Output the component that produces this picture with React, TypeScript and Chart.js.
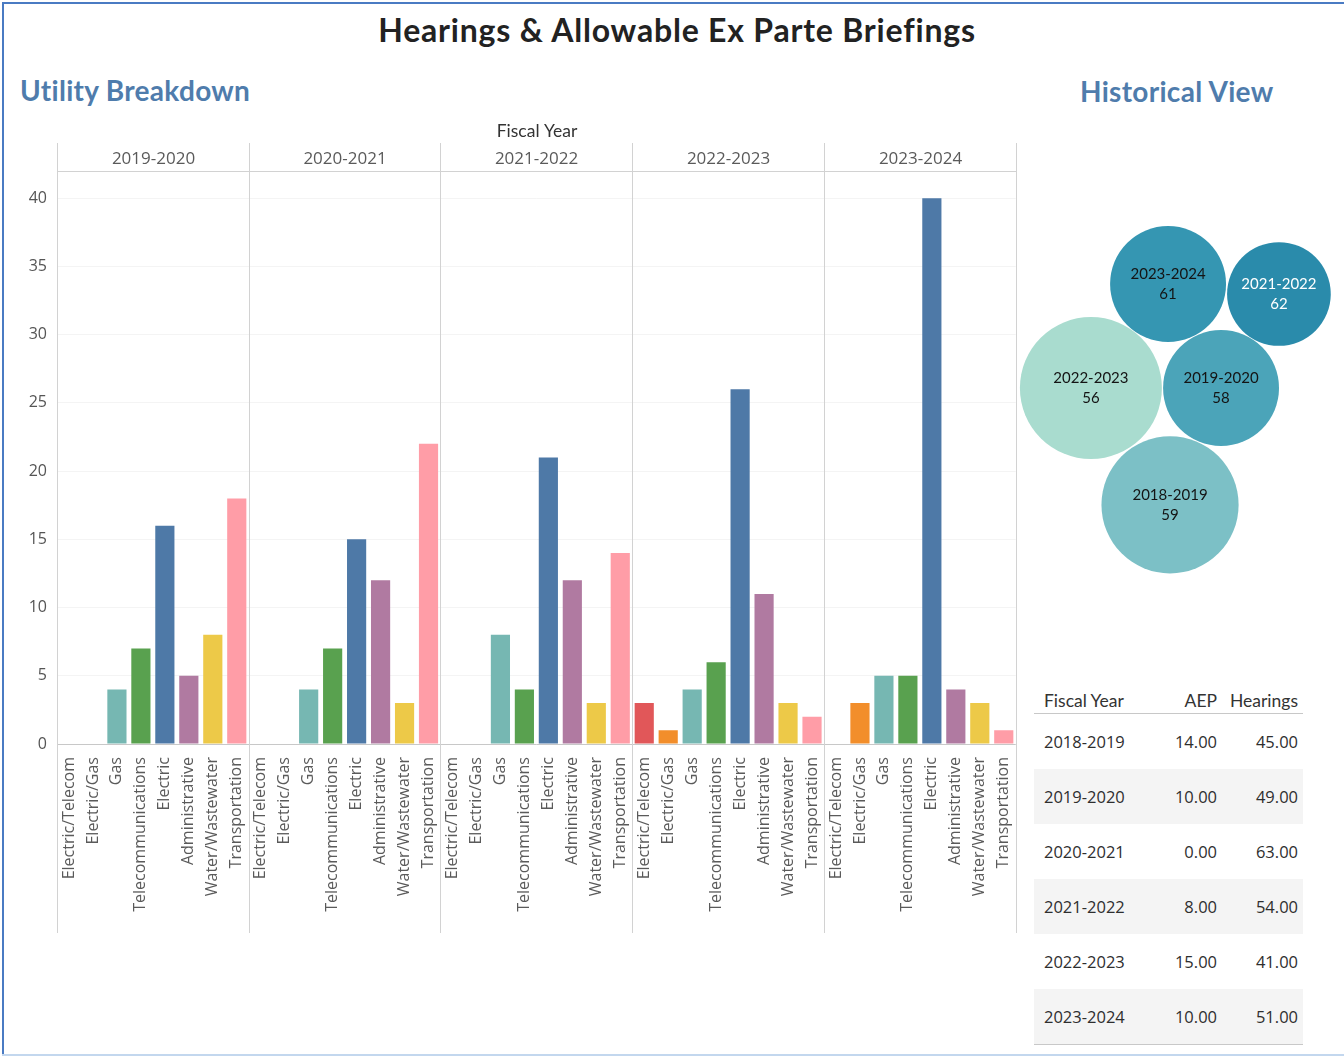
import React, { useEffect, useRef } from "react";
import { Chart, registerables } from "chart.js";

Chart.register(...registerables);

// ---------- Data ----------
const fiscalYears = ["2019-2020", "2020-2021", "2021-2022", "2022-2023", "2023-2024"];
const utilityCategories = [
  "Electric/Telecom",
  "Electric/Gas",
  "Gas",
  "Telecommunications",
  "Electric",
  "Administrative",
  "Water/Wastewater",
  "Transportation",
];
const categoryColors = ["#e15759", "#f28e2b", "#76b7b2", "#59a14f", "#4e79a7", "#b07aa1", "#edc948", "#ff9da7"];

const counts2019_2020 = [0, 0, 4, 7, 16, 5, 8, 18];
const counts2020_2021 = [0, 0, 4, 7, 15, 12, 3, 22];
const counts2021_2022 = [0, 0, 8, 4, 21, 12, 3, 14];
const counts2022_2023 = [3, 1, 4, 6, 26, 11, 3, 2];
const counts2023_2024 = [0, 3, 5, 5, 40, 4, 3, 1];
const yearCounts = [counts2019_2020, counts2020_2021, counts2021_2022, counts2022_2023, counts2023_2024];
const yTicks = [0, 5, 10, 15, 20, 25, 30, 35, 40];

// Historical view bubbles
const bubbleYears = ["2023-2024", "2021-2022", "2022-2023", "2019-2020", "2018-2019"];
const bubbleTotals = [61, 62, 56, 58, 59];
const bubbleAEP = [10, 8, 15, 10, 14];
const bubbleX = [4.62, 8.01, 2.26, 6.24, 4.68];
const bubbleY = [7.9, 7.65, 5.3, 5.3, 2.38];
const bubbleColors = ["#3596b2", "#2a8bab", "#a9dccf", "#4ba4b9", "#7cc0c6"];
const bubbleTextColors = ["#141414", "#ffffff", "#141414", "#141414", "#141414"];

// Table
const tableYears = ["2018-2019", "2019-2020", "2020-2021", "2021-2022", "2022-2023", "2023-2024"];
const tableAEP = [14, 10, 0, 8, 15, 10];
const tableHearings = [45, 49, 63, 54, 41, 51];

const AXIS_FONT = "'Open Sans', sans-serif";
const HEAD_FONT = "Lato, 'Open Sans', sans-serif";

function BarPanel() {
  const ref = useRef<HTMLCanvasElement | null>(null);
  useEffect(() => {
    if (!ref.current) return;
    const labels: string[] = [];
    const values: number[] = [];
    const colors: string[] = [];
    yearCounts.forEach((arr) => {
      arr.forEach((v, i) => {
        labels.push(utilityCategories[i]);
        values.push(v);
        colors.push(categoryColors[i]);
      });
    });
    const nCat = utilityCategories.length;

    const panelPlugin = {
      id: "panels",
      afterDraw(chart: any) {
        const { ctx, chartArea, scales } = chart;
        const xs = scales.x;
        const slot = xs.getPixelForValue(1) - xs.getPixelForValue(0);
        const bounds: number[] = [];
        for (let p = 0; p <= fiscalYears.length; p++) {
          bounds.push(Math.round(xs.getPixelForValue(p * nCat) - slot / 2) + 0.5);
        }
        ctx.save();
        ctx.strokeStyle = "#d2d2d2";
        ctx.lineWidth = 1;
        bounds.forEach((bx) => {
          ctx.beginPath();
          ctx.moveTo(bx, chartArea.top - 28);
          ctx.lineTo(bx, chart.height);
          ctx.stroke();
        });
        ctx.beginPath();
        ctx.moveTo(bounds[0], Math.round(chartArea.top) + 0.5);
        ctx.lineTo(bounds[bounds.length - 1], Math.round(chartArea.top) + 0.5);
        ctx.stroke();
        ctx.fillStyle = "#5a5a5a";
        ctx.font = `17px ${AXIS_FONT}`;
        ctx.textAlign = "center";
        ctx.textBaseline = "middle";
        fiscalYears.forEach((fy, i) => {
          ctx.fillText(fy, (bounds[i] + bounds[i + 1]) / 2, chartArea.top - 12);
        });
        ctx.fillStyle = "#333";
        ctx.font = `17.5px ${HEAD_FONT}`;
        ctx.fillText("Fiscal Year", (bounds[0] + bounds[bounds.length - 1]) / 2, chartArea.top - 40);
        ctx.restore();
      },
    };

    const chart = new Chart(ref.current, {
      type: "bar",
      data: {
        labels,
        datasets: [
          {
            data: values,
            backgroundColor: colors,
            barPercentage: 0.8,
            categoryPercentage: 1.0,
          },
        ],
      },
      options: {
        animation: false,
        responsive: false,
        maintainAspectRatio: false,
        layout: { padding: { top: 61, right: 3, left: 0, bottom: 0 } },
        plugins: { legend: { display: false }, tooltip: { enabled: false } },
        scales: {
          x: {
            grid: { display: false },
            border: { display: false },
            ticks: {
              autoSkip: false,
              maxRotation: 90,
              minRotation: 90,
              padding: 5,
              color: "#5a5a5a",
              font: { family: AXIS_FONT, size: 16 },
            },
            afterFit: (s: any) => {
              s.height = 189;
            },
          },
          y: {
            min: 0,
            max: 42,
            afterFit: (s: any) => {
              s.width = 57;
            },
            afterBuildTicks: (s: any) => {
              s.ticks = yTicks.map((v) => ({ value: v }));
            },
            border: { display: false },
            grid: {
              color: (c: any) => (c.tick && c.tick.value === 0 ? "#c8c8c8" : "#f4f4f4"),
              drawTicks: false,
            },
            ticks: {
              padding: 10,
              color: "#555",
              font: { family: AXIS_FONT, size: 16 },
            },
          },
        },
      },
      plugins: [panelPlugin],
    });
    return () => chart.destroy();
  }, []);
  return <canvas ref={ref} width={1028} height={823} style={{ position: "absolute", left: 0, top: 110 }} />;
}

function BubblePanel() {
  const ref = useRef<HTMLCanvasElement | null>(null);
  useEffect(() => {
    if (!ref.current) return;
    const labelPlugin = {
      id: "bubbleLabels",
      afterDatasetsDraw(chart: any) {
        const { ctx } = chart;
        const meta = chart.getDatasetMeta(0);
        ctx.save();
        ctx.textAlign = "center";
        ctx.textBaseline = "middle";
        ctx.font = `15px ${HEAD_FONT}`;
        meta.data.forEach((el: any, i: number) => {
          ctx.fillStyle = bubbleTextColors[i];
          ctx.fillText(bubbleYears[i], el.x, el.y - 10);
          ctx.fillText(String(bubbleTotals[i]), el.x, el.y + 10);
        });
        ctx.restore();
      },
    };
    const chart = new Chart(ref.current, {
      type: "bubble",
      data: {
        datasets: [
          {
            data: bubbleYears.map((_, i) => ({ x: bubbleX[i], y: bubbleY[i], r: 18.33 * Math.sqrt(bubbleAEP[i]) })),
            backgroundColor: bubbleColors,
            borderWidth: 0,
            hoverBorderWidth: 0,
            clip: false as any,
          },
        ],
      },
      options: {
        animation: false,
        responsive: false,
        maintainAspectRatio: false,
        layout: { padding: 0, autoPadding: false },
        plugins: { legend: { display: false }, tooltip: { enabled: false } },
        scales: {
          x: { display: false, min: 0, max: 10 },
          y: { display: false, min: 0, max: 10 },
        },
      },
      plugins: [labelPlugin],
    });
    return () => chart.destroy();
  }, []);
  return <canvas ref={ref} width={327} height={400} style={{ position: "absolute", left: 1017, top: 200 }} />;
}

function DataTable() {
  const rowH = 55;
  const col1: React.CSSProperties = { width: 140, paddingLeft: 10, boxSizing: "border-box" };
  const col2: React.CSSProperties = { width: 43, textAlign: "right" };
  const col3: React.CSSProperties = { width: 81, textAlign: "right" };
  return (
    <div style={{ position: "absolute", left: 1034, top: 687, width: 269, fontFamily: AXIS_FONT, color: "#333" }}>
      <div
        style={{
          height: 26,
          display: "flex",
          alignItems: "center",
          borderBottom: "1px solid #c8c8c8",
          fontFamily: HEAD_FONT,
          fontSize: 17.5,
          color: "#333",
          whiteSpace: "nowrap",
        }}
      >
        <div style={col1}>Fiscal Year</div>
        <div style={col2}>AEP</div>
        <div style={col3}>Hearings</div>
      </div>
      {tableYears.map((y, i) => (
        <div
          key={y}
          style={{
            height: rowH,
            display: "flex",
            alignItems: "center",
            background: i % 2 === 1 ? "#f4f4f4" : "#fff",
            fontSize: 16.5,
            color: "#2e2e2e",
            whiteSpace: "nowrap",
          }}
        >
          <div style={col1}>{y}</div>
          <div style={col2}>{tableAEP[i].toFixed(2)}</div>
          <div style={col3}>{tableHearings[i].toFixed(2)}</div>
        </div>
      ))}
      <div style={{ borderTop: "1px solid #c8c8c8" }} />
    </div>
  );
}

export default function App() {
  return (
    <div
      style={{
        position: "absolute",
        left: 0,
        top: 0,
        width: 1344,
        height: 1057,
        background: "#fff",
        overflow: "hidden",
      }}
    >
      <div style={{ position: "absolute", left: 2, top: 2, width: 1342, height: 2, background: "#4a7bc3" }} />
      <div style={{ position: "absolute", left: 2, top: 2, width: 2, height: 1054, background: "#4a7bc3" }} />
      <div style={{ position: "absolute", left: 2, top: 1054, width: 1342, height: 2, background: "#c3d7ee" }} />
      <div
        style={{
          position: "absolute",
          left: 0,
          width: 1354,
          top: 10,
          textAlign: "center",
          fontFamily: HEAD_FONT,
          fontWeight: 700,
          fontSize: 32,
          letterSpacing: 0.8,
          color: "#222",
          whiteSpace: "nowrap",
        }}
      >
        Hearings &amp; Allowable Ex Parte Briefings
      </div>
      <div
        style={{
          position: "absolute",
          left: 20,
          top: 73,
          fontFamily: HEAD_FONT,
          fontWeight: 700,
          fontSize: 28,
          letterSpacing: 0.3,
          color: "#4f7cac",
          whiteSpace: "nowrap",
        }}
      >
        Utility Breakdown
      </div>
      <div
        style={{
          position: "absolute",
          left: 1080,
          top: 74,
          fontFamily: HEAD_FONT,
          fontWeight: 700,
          fontSize: 28,
          letterSpacing: 0.3,
          color: "#4f7cac",
          whiteSpace: "nowrap",
        }}
      >
        Historical View
      </div>
      <BarPanel />
      <BubblePanel />
      <DataTable />
    </div>
  );
}
